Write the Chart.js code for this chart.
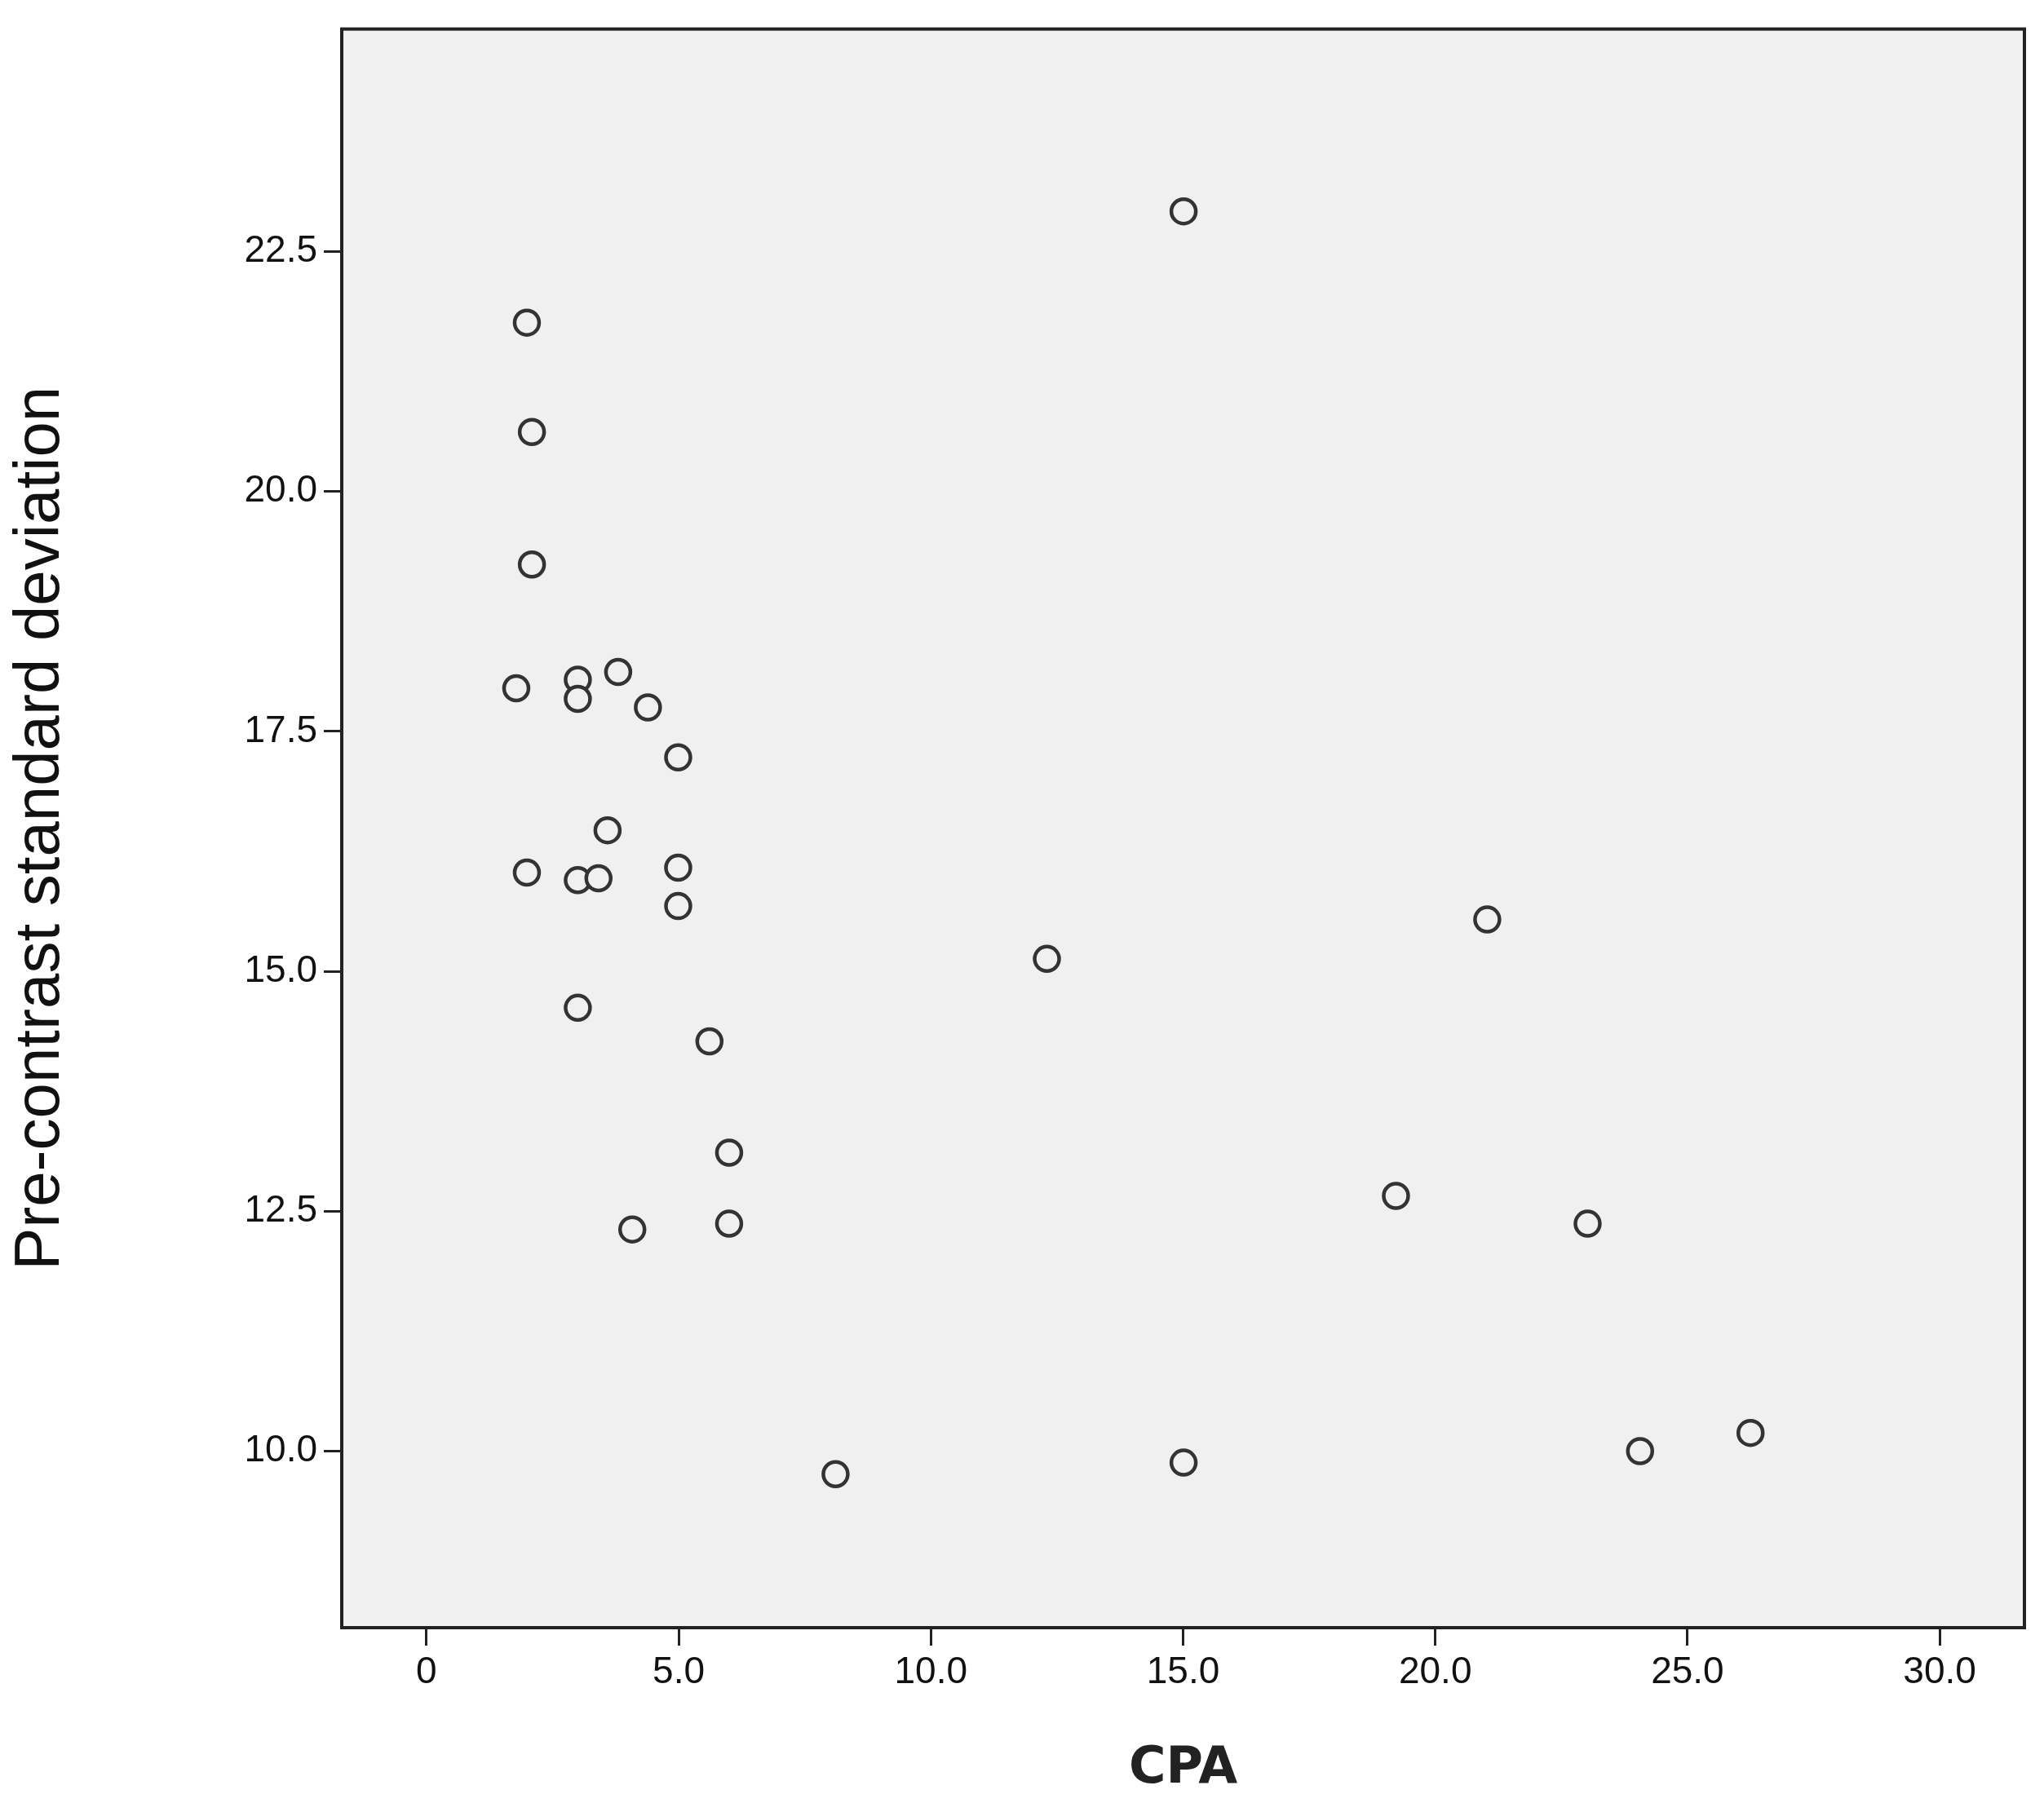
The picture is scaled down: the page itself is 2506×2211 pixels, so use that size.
<!DOCTYPE html>
<html>
<head>
<meta charset="utf-8">
<script src="https://cdn.jsdelivr.net/npm/chart.js@4"></script>
<style>
  html, body { margin: 0; padding: 0; background: #fff; }
  #wrap { width: 2506px; height: 2211px; }
</style>
</head>
<body>
<div id="wrap"><canvas id="scatter"></canvas></div>
<script>
// CPA vs pre-contrast SD
const cpaValues = [1.99, 2.09, 2.09, 1.78, 3.0, 3.0, 3.8, 4.39, 4.99, 3.59, 1.99, 3.0, 3.41, 4.99, 4.99,
                   3.0, 5.61, 6.0, 6.0, 4.08, 8.11, 12.3, 15.01, 15.01, 19.22, 21.03, 23.02, 24.06, 26.25];
const sdValues = [21.76, 20.62, 19.24, 17.95, 18.04, 17.84, 18.12, 17.75, 17.23, 16.47, 16.03, 15.95, 15.97, 16.08, 15.68,
                  14.62, 14.27, 13.11, 12.37, 12.31, 9.76, 15.13, 22.92, 9.88, 12.66, 15.54, 12.37, 10.0, 10.19];
const xTicks = [0, 5, 10, 15, 20, 25, 30];
const yTicks = [10, 12.5, 15, 17.5, 20, 22.5];

const points = cpaValues.map((x, i) => ({ x: x, y: sdValues[i] }));

// grey plot area plus black frame
const plotFrame = {
    id: 'plotFrame',
    beforeDraw(chart) {
        const a = chart.chartArea, c = chart.ctx;
        c.save();
        c.fillStyle = '#f0f0f0';
        c.fillRect(a.left, a.top, a.right - a.left, a.bottom - a.top);
        c.restore();
    },
    afterDraw(chart) {
        const a = chart.chartArea, c = chart.ctx;
        c.save();
        c.strokeStyle = '#222';
        c.lineWidth = 4;
        c.strokeRect(a.left, a.top, a.right - a.left, a.bottom - a.top);
        c.restore();
    }
};

new Chart(document.getElementById('scatter'), {
    type: 'scatter',
    data: {
        datasets: [{
            data: points,
            pointRadius: 15,
            pointBorderWidth: 4.5,
            pointBorderColor: '#333',
            pointBackgroundColor: '#f0f0f0'
        }]
    },
    options: {
        responsive: true,
        maintainAspectRatio: false,
        animation: false,
        layout: { padding: { top: 14, right: 24, left: 0, bottom: 0 } },
        plugins: { legend: { display: false }, tooltip: { enabled: false } },
        scales: {
            x: {
                min: -1.68, max: 31.68,
                afterBuildTicks: s => { s.ticks = xTicks.map(v => ({ value: v })); },
                afterFit: s => { s.height = 215; },
                ticks: {
                    color: '#111',
                    font: { family: 'Liberation Sans', size: 46 },
                    padding: 6,
                    callback: v => v === 0 ? '0' : v.toFixed(1)
                },
                grid: { drawOnChartArea: false, tickLength: 22, color: '#222', lineWidth: 3 },
                border: { display: false },
                title: {
                    display: true, text: 'CPA', color: '#222',
                    font: { family: 'DejaVu Sans', size: 62, weight: 'bold' },
                    padding: { top: 4 }
                }
            },
            y: {
                min: 8.16, max: 24.82,
                afterBuildTicks: s => { s.ticks = yTicks.map(v => ({ value: v })); },
                afterFit: s => { s.width = 419; },
                ticks: {
                    color: '#111',
                    font: { family: 'Liberation Sans', size: 46 },
                    padding: 8,
                    callback: v => v.toFixed(1)
                },
                grid: { drawOnChartArea: false, tickLength: 22, color: '#222', lineWidth: 3 },
                border: { display: false },
                title: {
                    display: true, text: 'Pre-contrast standard deviation', color: '#111',
                    font: { family: 'Liberation Sans', size: 78 },
                    padding: { bottom: 110 }
                }
            }
        }
    },
    plugins: [plotFrame]
});
</script>
</body>
</html>
